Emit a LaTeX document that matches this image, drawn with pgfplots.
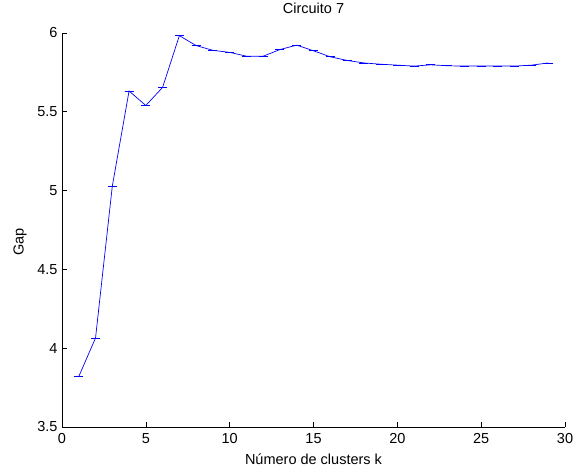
\documentclass[border=0pt]{standalone}
\usepackage{pgfplots}
\pgfplotsset{compat=1.18}
\usepackage{fontspec}
\setmainfont{Liberation Sans}
\begin{document}
\begin{tikzpicture}[x=1pt,y=1pt]
\path[use as bounding box] (0,0) rectangle (584,470);
\begin{axis}[
  at={(62pt,43pt)}, anchor=south west,
  scale only axis, width=503pt, height=394pt,
  xmin=0, xmax=30, ymin=3.5, ymax=6,
  axis lines*=left,
  axis line style={black, line width=0.6pt},
  xtick={0,5,...,30}, ytick={3.5,4,4.5,5,5.5,6},
  yticklabels={3.5,4,4.5,5,5.5,6},
  tick align=inside, major tick length=5pt,
  tick style={black, line width=0.6pt},
  /pgf/number format/assume math mode=true,
  ticklabel style={font=\fontsize{14.5}{17}\selectfont},
  xticklabel style={yshift=-3pt},
  yticklabel style={xshift=-1pt},
  label style={font=\fontsize{14.5}{17}\selectfont},
  title style={font=\fontsize{14.5}{17}\selectfont, at={(axis description cs:0.5,1)}, anchor=base, yshift=13pt},
  title={Circuito 7},
  xlabel={Número de clusters k},
  ylabel={Gap},
  xlabel style={at={(axis description cs:0.5,0)}, anchor=base, yshift=-38pt},
  ylabel style={at={(axis description cs:-0.0765,0.47)}, anchor=base},
]
\addplot[blue, line width=0.7pt, mark=none,
  error bars/.cd, y dir=both, y explicit,
  error mark options={blue, line width=0.7pt, mark size=4.5pt, rotate=90},
  error bar style={blue, line width=0.7pt}]
coordinates {
(1,3.82) +- (0,0)
(2,4.065) +- (0,0)
(3,5.028) +- (0,0)
(4,5.632) +- (0,0)
(5,5.54) +- (0,0)
(6,5.655) +- (0,0)
(7,5.983) +- (0,0)
(8,5.92) +- (0,0)
(9,5.89) +- (0,0)
(10,5.877) +- (0,0)
(11,5.853) +- (0,0)
(12,5.853) +- (0,0)
(13,5.895) +- (0,0)
(14,5.923) +- (0,0)
(15,5.887) +- (0,0)
(16,5.849) +- (0,0)
(17,5.826) +- (0,0)
(18,5.81) +- (0,0)
(19,5.802) +- (0,0)
(20,5.796) +- (0,0)
(21,5.79) +- (0,0)
(22,5.798) +- (0,0)
(23,5.792) +- (0,0)
(24,5.79) +- (0,0)
(25,5.79) +- (0,0)
(26,5.79) +- (0,0)
(27,5.79) +- (0,0)
(28,5.796) +- (0,0)
(29,5.81) +- (0,0)
};
\end{axis}
\end{tikzpicture}
\end{document}
